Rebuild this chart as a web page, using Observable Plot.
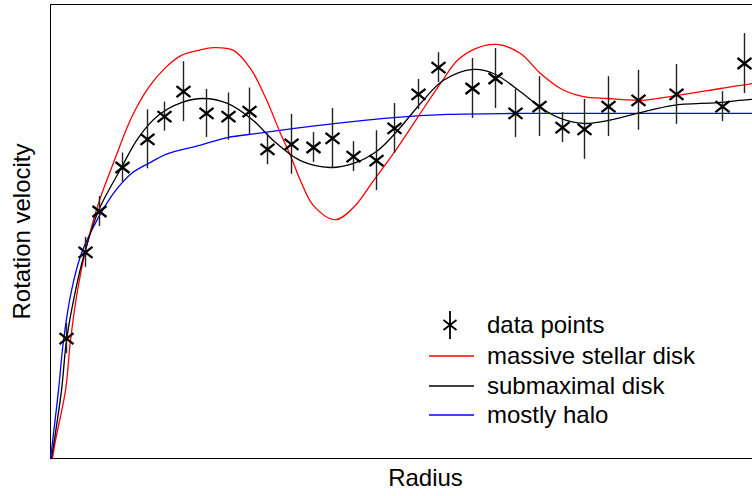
<!DOCTYPE html>
<html><head><meta charset="utf-8">
<script src="https://cdn.jsdelivr.net/npm/d3@7"></script>
<script src="https://cdn.jsdelivr.net/npm/@observablehq/plot@0.6"></script>
<style>
html,body{margin:0;padding:0;background:#fff;overflow:hidden}
#wrap{position:relative;width:752px;height:496px;overflow:hidden}
#legend{position:absolute;left:0;top:0;pointer-events:none}
</style></head><body><div id="wrap"></div>
<script>
// data points
const pointRadius   = [1.6, 3.5, 4.9, 7.2, 9.7, 11.4, 13.3, 15.6, 17.8, 19.9, 21.7, 24.1, 26.3, 28.2, 30.3, 32.6, 34.4, 36.8, 38.8, 42.2, 44.5, 46.5, 48.9, 51.2, 53.4, 55.8, 58.8, 62.6, 67.2, 69.4];
const pointVelocity = [26.4, 45.4, 54.4, 64.1, 70.3, 75.3, 80.8, 76.0, 75.3, 76.4, 68.1, 69.2, 68.5, 70.5, 66.5, 65.6, 72.7, 80.2, 86.1, 81.5, 83.7, 76.0, 77.5, 72.9, 72.5, 77.5, 78.9, 80.2, 77.5, 87.0];
const pointError    = [3.3, 3.3, 3.3, 3.2, 6.5, 3.2, 6.6, 5.3, 5.2, 5.2, 3.4, 6.6, 3.3, 6.6, 3.3, 6.6, 5.5, 3.3, 3.3, 6.6, 6.6, 5.3, 6.6, 3.3, 6.6, 6.6, 6.6, 6.6, 3.3, 6.6];

// massive stellar disk
const massiveRadius   = [0.2, 0.5, 1.5, 2.0, 2.7, 3.5, 4.8, 6.5, 8.1, 9.8, 11.5, 13.1, 14.8, 16.3, 18.3, 20.0, 21.5, 23.0, 24.0, 25.0, 26.3, 28.5, 30.3, 32.3, 34.3, 36.7, 39.0, 40.7, 42.5, 44.7, 47.0, 49.0, 51.0, 53.3, 55.7, 59.0, 62.7, 67.0, 70.2, 75];
const massiveVelocity = [0, 4.0, 15.0, 26.0, 37.0, 45.8, 56.2, 66.3, 75.1, 81.7, 86.1, 88.8, 89.9, 90.5, 89.9, 85.9, 79.5, 71.6, 66.7, 61.2, 55.7, 52.6, 55.3, 61.2, 67.2, 75.1, 82.6, 87.7, 90.3, 91.2, 89.2, 84.8, 81.5, 79.7, 79.3, 78.9, 80.0, 81.5, 82.6, 84.0];

// submaximal disk
const subRadius   = [0.1, 1.1, 1.6, 2.5, 3.4, 4.8, 7.1, 8.8, 10.8, 13.1, 15.3, 17.7, 20.3, 22.3, 25.0, 28.0, 30.3, 32.7, 34.7, 37.0, 39.3, 42.3, 44.3, 47.0, 49.0, 51.0, 53.3, 55.7, 59.0, 62.3, 66.7, 70.2, 75];
const subVelocity = [0, 15.0, 26.0, 37.0, 45.2, 54.6, 64.1, 70.7, 75.6, 78.4, 79.3, 78.2, 74.4, 70.0, 65.6, 64.1, 65.0, 67.8, 72.2, 78.2, 83.3, 85.7, 84.8, 80.8, 77.3, 74.9, 73.8, 74.4, 76.2, 77.8, 78.4, 79.1, 79.5];

// mostly halo
const haloRadius   = [0, 0.8, 1.3, 2.1, 3.1, 4.8, 6.5, 8.1, 9.8, 11.8, 14.8, 17.7, 20.7, 25.0, 34.3, 39.7, 46.5, 55.0, 70.2, 75];
const haloVelocity = [0, 15.0, 26.0, 37.0, 45.2, 53.1, 59.0, 62.8, 65.0, 67.2, 68.9, 70.7, 71.6, 72.9, 75.1, 75.8, 76.0, 76.0, 76.0, 76.0];

const legendLabels = ["data points", "massive stellar disk", "submaximal disk", "mostly halo"];
const legendColors = [null, "red", "black", "blue"];

const points = pointRadius.map((r, i) => ({r, v: pointVelocity[i], e: pointError[i]}));
const toRows = (rs, vs) => rs.map((r, i) => ({r, v: vs[i]}));
const massive = toRows(massiveRadius, massiveVelocity);
const sub = toRows(subRadius, subVelocity);
const halo = toRows(haloRadius, haloVelocity);

const cross = {draw(ctx) { ctx.moveTo(-7, -5.5); ctx.lineTo(7, 5.5); ctx.moveTo(-7, 5.5); ctx.lineTo(7, -5.5); }};
const font = "'Liberation Sans', Arial, sans-serif";

const chart = Plot.plot({
  width: 752, height: 496,
  marginLeft: 50, marginRight: -48, marginTop: 4, marginBottom: 38,
  x: {domain: [0, 75], axis: null},
  y: {domain: [0, 100], axis: null},
  style: {fontFamily: font, background: "white"},
  marks: [
    Plot.frame({stroke: "black", strokeWidth: 1}),
    Plot.line(halo, {x: "r", y: "v", stroke: "blue", strokeWidth: 1.3, curve: "catmull-rom"}),
    Plot.line(massive, {x: "r", y: "v", stroke: "red", strokeWidth: 1.3, curve: "catmull-rom"}),
    Plot.line(sub, {x: "r", y: "v", stroke: "black", strokeWidth: 1.3, curve: "catmull-rom"}),
    Plot.ruleX(points, {x: "r", y1: d => d.v - d.e, y2: d => d.v + d.e, stroke: "#222", strokeWidth: 1.4}),
    Plot.dot(points, {x: "r", y: "v", symbol: cross, stroke: "black", strokeWidth: 2.3}),
    Plot.text(["Radius"], {frameAnchor: "bottom", dy: 27, fontSize: 24, fill: "black", text: d => d}),
    Plot.text(["Rotation velocity"], {frameAnchor: "left", dx: -28, rotate: -90, textAnchor: "middle", fontSize: 24, fill: "black", text: d => d})
  ]
});
const wrap = document.getElementById("wrap");
wrap.appendChild(chart);

// legend overlay
const ns = "http://www.w3.org/2000/svg";
const lg = document.createElementNS(ns, "svg");
lg.setAttribute("id", "legend");
lg.setAttribute("width", 752); lg.setAttribute("height", 496);
const rows = [325, 356, 386, 415];
legendLabels.forEach((label, i) => {
  const y = rows[i];
  if (legendColors[i] === null) {
    const g = document.createElementNS(ns, "path");
    g.setAttribute("d", `M450,${y-14}V${y+14}M443.5,${y-5}L456.5,${y+5}M443.5,${y+5}L456.5,${y-5}`);
    g.setAttribute("stroke", "black"); g.setAttribute("stroke-width", 1.8); g.setAttribute("fill", "none");
    lg.appendChild(g);
  } else {
    const l = document.createElementNS(ns, "line");
    l.setAttribute("x1", 429); l.setAttribute("x2", 474);
    l.setAttribute("y1", y); l.setAttribute("y2", y);
    l.setAttribute("stroke", legendColors[i]); l.setAttribute("stroke-width", 1.3);
    lg.appendChild(l);
  }
  const t = document.createElementNS(ns, "text");
  t.setAttribute("x", 487); t.setAttribute("y", y + 8);
  t.setAttribute("font-family", font); t.setAttribute("font-size", 24);
  t.textContent = label;
  lg.appendChild(t);
});
wrap.appendChild(lg);
</script></body></html>
